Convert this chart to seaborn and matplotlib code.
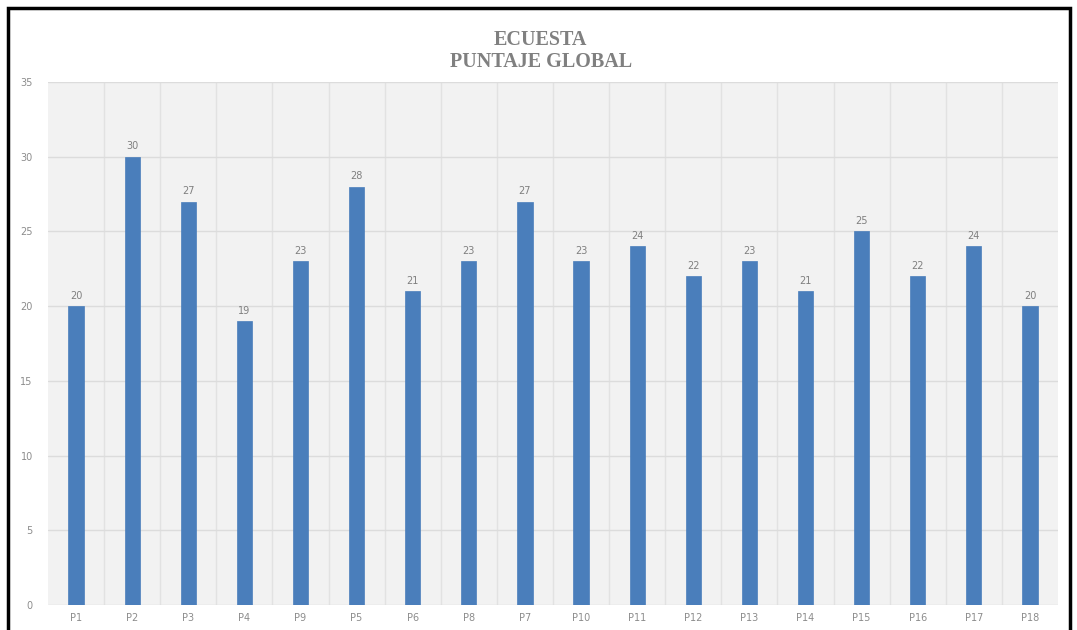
import matplotlib
matplotlib.use("Agg")
import matplotlib.pyplot as plt
from matplotlib.patches import Rectangle
from matplotlib.ticker import MultipleLocator, FixedLocator
import seaborn as sns
import pandas as pd

categories = ["P1", "P2", "P3", "P4", "P9", "P5", "P6", "P8", "P7", "P10",
              "P11", "P12", "P13", "P14", "P15", "P16", "P17", "P18"]
values = [20, 30, 27, 19, 23, 28, 21, 23, 27, 23, 24, 22, 23, 21, 25, 22, 24, 20]
title_lines = ["ECUESTA", "PUNTAJE GLOBAL"]

df = pd.DataFrame({"cat": categories, "val": values})

sns.set_theme(style="white")
plt.rcParams["font.family"] = ["DejaVu Sans"]

fig = plt.figure(figsize=(10.77, 6.3), dpi=100)
fig.patch.set_facecolor("white")
ax = fig.add_axes([48 / 1077, 1 - 605 / 630, 1010 / 1077, (605 - 82) / 630])
ax.set_facecolor("#f2f2f2")

sns.barplot(data=df, x="cat", y="val", color="#4a7ebb", saturation=1,
            width=0.27, ax=ax, zorder=3, edgecolor="#4a7ebb", linewidth=0.5)

ax.set_ylim(0, 35)
ax.set_xlim(-0.5, len(categories) - 0.5)
ax.yaxis.set_major_locator(MultipleLocator(5))
ax.xaxis.set_minor_locator(FixedLocator([i + 0.5 for i in range(len(categories) - 1)]))
ax.grid(axis="y", which="major", color="#dcdcdc", linewidth=1.0, zorder=0)
ax.grid(axis="x", which="minor", color="#e2e2e2", linewidth=1.0, zorder=0)
ax.grid(axis="x", which="major", visible=False)
ax.set_axisbelow(True)

for s in ax.spines.values():
    s.set_visible(False)

ax.tick_params(axis="both", which="both", length=0, labelsize=7, colors="#8c8c8c", pad=6)
ax.tick_params(axis="y", pad=11)
ax.set_xlabel("")
ax.set_ylabel("")

for c in ax.containers:
    ax.bar_label(c, fmt="%d", padding=4, fontsize=7, color="#7f7f7f")

fig.text(0.502, 1 - 40 / 630, title_lines[0], ha="center", va="center",
         fontsize=14.5, fontweight="bold", color="#808080", family="Liberation Serif")
fig.text(0.502, 1 - 62 / 630, title_lines[1], ha="center", va="center",
         fontsize=14.5, fontweight="bold", color="#808080", family="Liberation Serif")

border = Rectangle((8 / 1077, -0.02), (1070 - 8) / 1077, 1.02 - 8 / 630,
                   transform=fig.transFigure, fill=False, edgecolor="black",
                   linewidth=2.5, zorder=10)
fig.patches.append(border)

fig.savefig("out.png", dpi=100)
